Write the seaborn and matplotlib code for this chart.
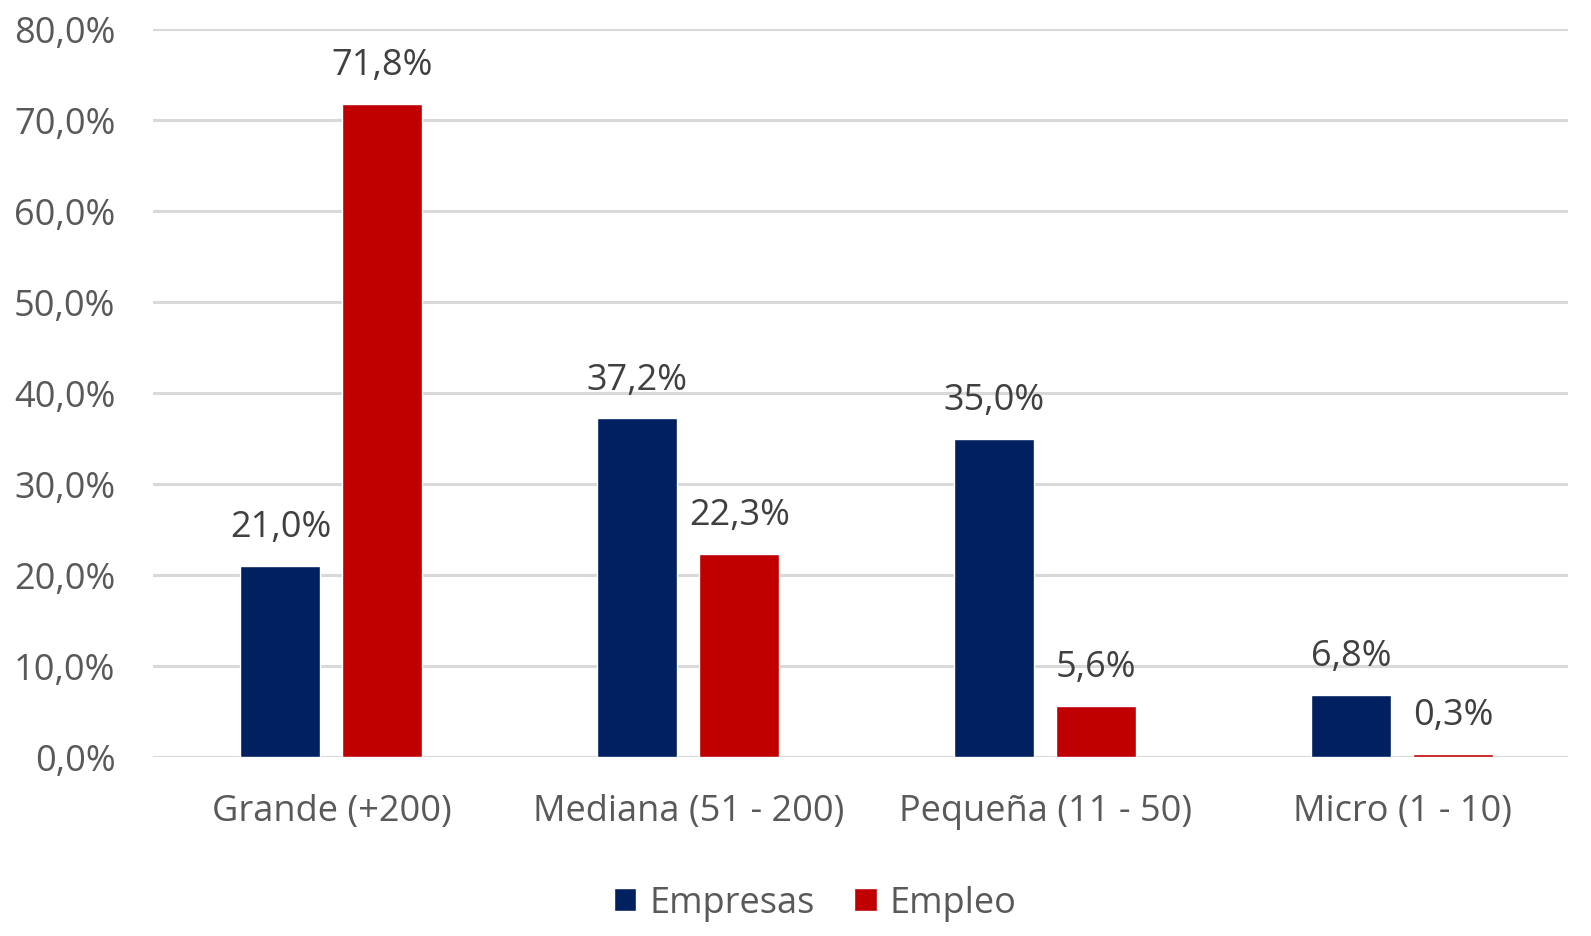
import pandas as pd
import seaborn as sns
import matplotlib.pyplot as plt
from matplotlib.patches import Patch

categories = ["Grande (+200)", "Mediana (51 - 200)", "Pequeña (11 - 50)", "Micro (1 - 10)"]
empresas = [21.0, 37.2, 35.0, 6.8]
empleo = [71.8, 22.3, 5.6, 0.3]
series_names = ["Empresas", "Empleo"]
colors = ["#002060", "#C00000"]


def build_frame():
    rows = []
    for cat, e1, e2 in zip(categories, empresas, empleo):
        rows.append({"cat": cat, "serie": "Empresas", "val": e1})
        rows.append({"cat": cat, "serie": "Empleo", "val": e2})
    return pd.DataFrame(rows)


def pct(v):
    return f"{v:.1f}%".replace(".", ",")


def main():
    sns.set_style("white")
    plt.rcParams["font.family"] = ["Open Sans", "DejaVu Sans"]

    df = build_frame()
    fig = plt.figure(figsize=(15.91, 9.37), dpi=100)
    ax = fig.add_axes([153 / 1591, 1 - 758 / 937, (1568 - 153) / 1591, (758 - 30) / 937])

    sns.barplot(data=df, x="cat", y="val", hue="serie", hue_order=series_names,
                palette=colors, width=0.572, gap=0.216, saturation=1,
                legend=False, ax=ax, zorder=3)

    for cont, cname in zip(ax.containers, series_names):
        vals = empresas if cname == "Empresas" else empleo
        ax.bar_label(cont, labels=[pct(v) for v in vals], padding=15,
                     fontsize=26, color="#404040")

    ax.set_ylim(0, 80)
    ax.set_xlim(-0.5, 3.465)
    ax.set_yticks(range(0, 81, 10))
    ax.set_yticklabels([pct(t) for t in range(0, 81, 10)])
    ax.yaxis.grid(True, color="#D9D9D9", linewidth=2.2, zorder=0)
    ax.set_axisbelow(True)
    ax.tick_params(axis="y", length=0, pad=27, labelsize=26, labelcolor="#595959")
    ax.tick_params(axis="x", length=0, pad=26, labelsize=26, labelcolor="#595959")
    ax.set_xlabel("")
    ax.set_ylabel("")
    for s in ax.spines.values():
        s.set_visible(False)

    handles = [Patch(facecolor=c, label=n) for c, n in zip(colors, series_names)]
    fig.legend(handles=handles, loc="center", bbox_to_anchor=(815 / 1591, 1 - 904 / 937),
               ncol=2, frameon=False, fontsize=26, labelcolor="#595959",
               handlelength=0.62, handleheight=0.62, handletextpad=0.35, columnspacing=1.1)

    fig.savefig("out.png", dpi=100)


if __name__ == "__main__":
    main()
